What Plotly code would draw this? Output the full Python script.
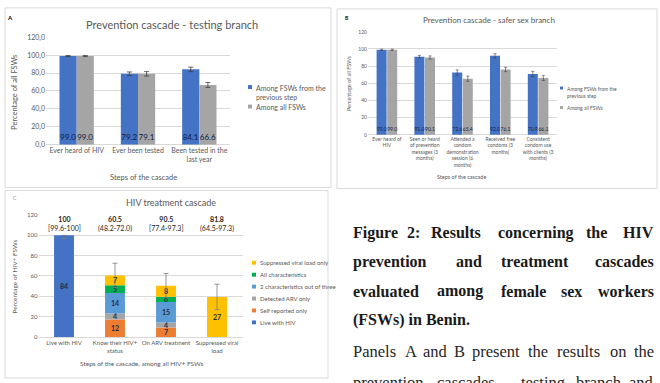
import numpy as np
import plotly.graph_objects as go

# ---------------- data ----------------
# Panel A
a_steps = ["Ever heard of HIV", "Ever been tested", "Been tested in the<br>last year"]
a_prev = [99.0, 79.2, 84.1]
a_all = [99.0, 79.1, 66.6]
a_prev_err = [0.6, 2.0, 2.5]
a_all_err = [0.6, 2.5, 2.8]
a_yticks = [0, 20, 40, 60, 80, 100, 120]
a_yticklabels = ["0,0", "20,0", "40,0", "60,0", "80,0", "100,0", "120,0"]

# Panel B
b_steps = ["Ever heard of<br>HIV",
           "Seen or heard<br>of prevention<br>messages (3<br>months)",
           "Attended a<br>condom<br>demonstration<br>session (6<br>months)",
           "Received free<br>condoms (3<br>months)",
           "Consistent<br>condom use<br>with clients (3<br>months)"]
b_prev = [99.0, 91.0, 72.6, 92.0, 70.9]
b_all = [99.0, 90.1, 65.4, 76.1, 66.1]
b_prev_err = [0.8, 1.5, 3.0, 2.5, 3.0]
b_all_err = [0.8, 1.8, 3.0, 2.5, 2.8]
b_yticks = [0, 20, 40, 60, 80, 100, 120]

# Panel C (heights in % of HIV+ FSWs, labels are counts)
c_steps = ["Live with HIV", "Know their HIV+<br>status", "On ARV treatment", "Suppressed viral<br>load"]
c_names = ["Live with HIV", "Self reported only", "Detected ARV only",
           "2 characteristics out of three", "All characteristics", "Suppressed viral load only"]
c_live = [100.0, None, None, None]
c_self = [None, 17.3, 9.3, None]
c_arv = [None, 5.8, 5.0, None]
c_two = [None, 20.2, 20.0, None]
c_allc = [None, 7.6, 5.2, None]
c_supp = [None, 9.6, 11.0, 39.4]
c_live_n = [84, None, None, None]
c_self_n = [None, 12, 7, None]
c_arv_n = [None, 4, 4, None]
c_two_n = [None, 14, 15, None]
c_allc_n = [None, 5, 6, None]
c_supp_n = [None, 7, 8, 27]
c_err_plus = [0.0, 12.0, 12.0, 12.5]
c_err_minus = [3.0, 12.0, 12.0, 12.5]
c_headers_main = ["100", "60.5", "90.5", "81.8"]
c_headers_ci = ["[99.6-100]", "(48.2-72.0)", "[77.4-97.3]", "(64.5-97.3)"]

# ---------------- styling ----------------
W, H = 660, 383
def px(x): return x / W
def py(y): return 1 - y / H

BLUE = "#4472C4"; GRAY = "#A5A5A5"; ORANGE = "#ED7D31"; LBLUE = "#5B9BD5"
GREEN = "#00B050"; YELLOW = "#FFC000"
TXT = "#595959"; GRID = "#D9D9D9"; LAB = "#0E1F45"
FONT = "Lato"
SERIF = "Liberation Serif"

fig = go.Figure()

# ---- Panel A bars ----
for name, vals, err, color in [("Among FSWs from the previous step", a_prev, a_prev_err, BLUE),
                               ("Among all FSWs", a_all, a_all_err, GRAY)]:
    fig.add_bar(x=a_steps, y=vals, name=name, marker_color=color, marker_line_width=0,
                error_y=dict(type="data", array=err, color="#404040", thickness=0.8, width=2.5),
                text=[f"{v:.1f}" for v in vals], textposition="inside", insidetextanchor="start",
                textangle=0, constraintext="none",
                insidetextfont=dict(size=8, color=LAB, family=FONT),
                xaxis="x", yaxis="y", width=0.28, showlegend=False)

# ---- Panel B bars ----
for name, vals, err, color in [("Among FSWs from the previous step", b_prev, b_prev_err, BLUE),
                               ("Among all FSWs", b_all, b_all_err, GRAY)]:
    fig.add_bar(x=b_steps, y=vals, name=name, marker_color=color, marker_line_width=0,
                error_y=dict(type="data", array=err, color="#404040", thickness=0.6, width=1.5),
                text=[f"{v:.1f}" for v in vals], textposition="inside", insidetextanchor="start",
                textangle=0, constraintext="none",
                insidetextfont=dict(size=5, color=LAB, family=FONT),
                xaxis="x2", yaxis="y2", width=0.265, showlegend=False)

# ---- Panel C stacked bars ----
c_vals = [c_live, c_self, c_arv, c_two, c_allc, c_supp]
c_cnts = [c_live_n, c_self_n, c_arv_n, c_two_n, c_allc_n, c_supp_n]
c_cols = [BLUE, ORANGE, GRAY, LBLUE, GREEN, YELLOW]
arr = np.array([[np.nan if v is None else v for v in s] for s in c_vals], dtype=float)
filled = np.nan_to_num(arr)
bases = np.vstack([np.zeros(len(c_steps)), np.cumsum(filled, axis=0)[:-1]])
for i, (name, vals, cnts, col) in enumerate(zip(c_names, c_vals, c_cnts, c_cols)):
    err = None
    if i == 0:
        err = dict(type="data", array=[c_err_plus[0], None, None, None],
                   arrayminus=[c_err_minus[0], None, None, None], symmetric=False,
                   color="#7F7F7F", thickness=0.8, width=2.5)
    if i == len(c_names) - 1:
        err = dict(type="data", array=[None] + c_err_plus[1:],
                   arrayminus=[None] + c_err_minus[1:], symmetric=False,
                   color="#7F7F7F", thickness=0.8, width=2.5)
    fig.add_bar(x=c_steps, y=vals, base=list(bases[i]), name=name, marker_color=col,
                marker_line_width=0, offsetgroup="c", width=0.39,
                error_y=err,
                text=["" if c is None else str(c) for c in cnts], textposition="inside",
                insidetextanchor="middle", textangle=0, constraintext="none",
                insidetextfont=dict(size=7, color="#1F2D4D", family=FONT, weight="bold"),
                xaxis="x3", yaxis="y3", showlegend=False)

annotations = []
shapes = []

def ann(text, x, y, size, color=TXT, xanchor="center", yanchor="middle", angle=0,
        family=FONT, bold=False, align="center"):
    annotations.append(dict(text=text, x=px(x), y=py(y), xref="paper", yref="paper",
                            xanchor=xanchor, yanchor=yanchor, showarrow=False, textangle=angle,
                            align=align,
                            font=dict(size=size, color=color, family=family,
                                      weight="bold" if bold else "normal")))

# C headers above bars
for i, (m, ci) in enumerate(zip(c_headers_main, c_headers_ci)):
    annotations.append(dict(text=f"<b>{m}</b><br>{ci}", x=i, y=111.5, xref="x3", yref="y3",
                            showarrow=False, xanchor="center", yanchor="middle",
                            font=dict(size=7, color="#262626", family=FONT)))

# panel frames
for x0, y0, x1, y1 in [(5, 3, 331, 187), (337, 4, 657, 188), (5, 190, 328, 382)]:
    shapes.append(dict(type="rect", xref="paper", yref="paper", x0=px(x0), x1=px(x1),
                       y0=py(y1), y1=py(y0), line=dict(color=GRID, width=1)))

# titles and axis titles
ann("Prevention cascade - testing branch", 172, 20, 11)
ann("Prevention cascade - safer sex branch", 489, 15, 8)
ann("HIV treatment cascade", 171, 202, 9)
ann("<b>A</b>", 10, 13, 6, color="#000000")
ann("<b>B</b>", 347, 13, 5, color="#000000")
ann("C", 15, 198, 5, color="#7F7F7F")
ann("Percentage of all FSWs", 15, 90, 7.5, angle=-90)
ann("Steps of the cascade", 143, 177, 7.5)
ann("Percentage of all FSWs", 349, 80, 5.5, angle=-90)
ann("Steps of the cascade", 462, 176, 5.5)
ann("Percentage of HIV+ FSWs", 14, 278, 6.5, angle=-90)
ann("Steps of the cascade, among all HIV+ FSWs", 141, 367, 6.5)

# custom legends
def legend_item(x, y, color, text, size, sq, ytext=None):
    shapes.append(dict(type="rect", xref="paper", yref="paper", x0=px(x), x1=px(x + sq),
                       y0=py(y + sq / 2), y1=py(y - sq / 2), fillcolor=color, line=dict(width=0)))
    ann(text, x + sq + 2, y if ytext is None else ytext, size, xanchor="left",
        yanchor="middle" if ytext is None else "top", align="left")

legend_item(248, 84, BLUE, "Among FSWs from the<br>previous step", 7, 4, ytext=79)
legend_item(248, 104, GRAY, "Among all FSWs", 7, 4)
legend_item(560, 85, BLUE, "Among FSWs from the<br>previous step", 5, 3, ytext=81)
legend_item(560, 105, GRAY, "Among all FSWs", 5, 3)
for k, (name, col) in enumerate(zip(c_names[::-1], c_cols[::-1])):
    legend_item(252, 264 + k * 12.2, col, name, 6, 4)

# caption text, justified word by word (None = right-aligned at the text block edge)
cap_bold = [
    (233, [("Figure", 352), ("2:", 406), ("Results", 430), ("concerning", 497), ("the", 585), ("HIV", None)]),
    (263, [("prevention", 352), ("and", 455), ("treatment", 500), ("cascades", None)]),
    (293, [("evaluated", 352), ("among", 436), ("female", 500), ("sex", 560), ("workers", None)]),
    (323, [("(FSWs) in Benin.", 352)]),
]
cap_regular = [
    (355, [("Panels", 352), ("A", 404), ("and", 422), ("B", 453), ("present", 471), ("the", 527),
           ("results", 556), ("on", 609), ("the", None)]),
    (387, [("prevention", 352), ("cascades", 436), ("–", 506), ("testing", 520), ("branch", 575), ("and", None)]),
]
for lines, bold, size, col in [(cap_bold, True, 16, "#1A1A1A"), (cap_regular, False, 16.5, "#262626")]:
    for y, words in lines:
        for w, x in words:
            if x is None:
                ann(w, 656, y, size, color=col, xanchor="right", family=SERIF, bold=bold)
            else:
                ann(w, x - 1, y, size, color=col, xanchor="left", family=SERIF, bold=bold)

fig.update_layout(
    width=W, height=H, margin=dict(l=0, r=0, t=0, b=0),
    paper_bgcolor="white", plot_bgcolor="white",
    barmode="group", bargap=0.44, bargroupgap=0,
    font=dict(family=FONT, color=TXT),
    xaxis=dict(domain=[px(46), px(230)], anchor="y", showgrid=False, showline=False, ticks="",
               tickfont=dict(size=7, color=TXT, family=FONT)),
    yaxis=dict(domain=[py(143), py(33)], anchor="x", range=[0, 120], tickvals=a_yticks,
               ticktext=a_yticklabels, gridcolor=GRID, gridwidth=0.8, zeroline=True,
               zerolinecolor=GRID, zerolinewidth=0.8, tickfont=dict(size=7, color=TXT, family=FONT)),
    xaxis2=dict(domain=[px(368), px(557)], anchor="y2", showgrid=False, showline=False, ticks="",
                tickfont=dict(size=5, color=TXT, family=FONT)),
    yaxis2=dict(domain=[py(133), py(27.4)], anchor="x2", range=[0, 120], tickvals=b_yticks,
                gridcolor=GRID, gridwidth=0.8, zeroline=True, zerolinecolor=GRID, zerolinewidth=0.8,
                tickfont=dict(size=5, color=TXT, family=FONT)),
    xaxis3=dict(domain=[px(38.5), px(242.5)], anchor="y3", showgrid=False, showline=True,
                linecolor=GRID, linewidth=0.8, ticks="",
                tickfont=dict(size=6, color=TXT, family=FONT)),
    yaxis3=dict(domain=[py(340), py(215)], anchor="x3", range=[0, 120], dtick=20,
                gridcolor=GRID, gridwidth=0.8, zeroline=True, zerolinecolor=GRID, zerolinewidth=0.8,
                tickfont=dict(size=6, color=TXT, family=FONT)),
    annotations=annotations, shapes=shapes,
)

fig.write_html("out.html")
